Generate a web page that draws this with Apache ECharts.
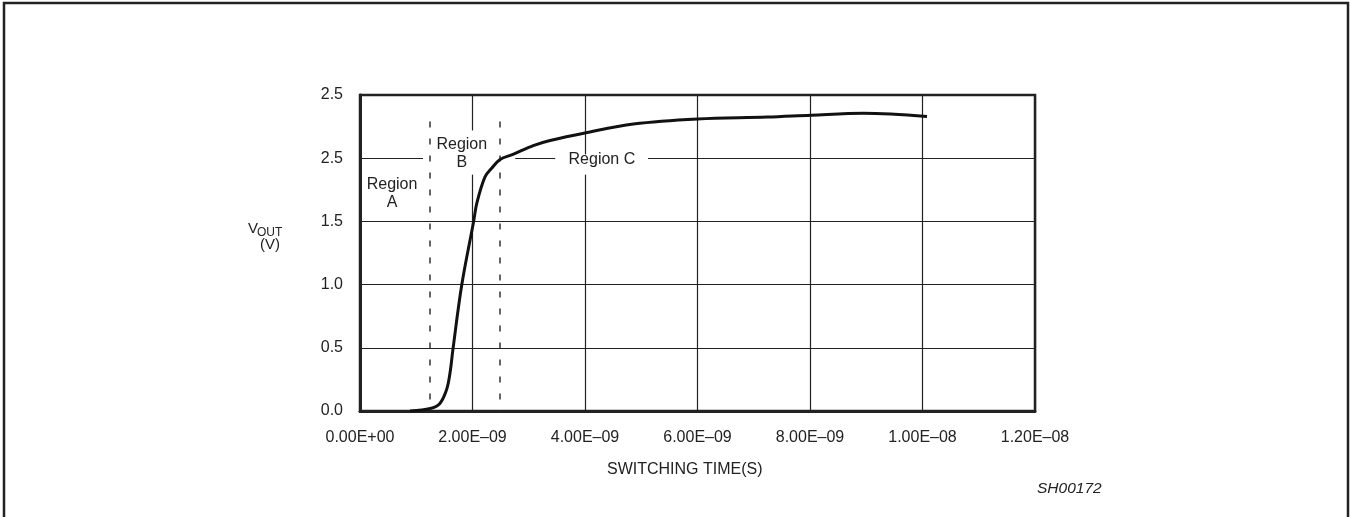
<!DOCTYPE html>
<html>
<head>
<meta charset="utf-8">
<script src="https://cdn.jsdelivr.net/npm/echarts@6/dist/echarts.min.js"></script>
<style>
html,body{margin:0;padding:0;background:#fff;}
#c{width:1351px;height:517px;}
</style>
</head>
<body>
<div id="c"></div>
<script>
// switching time in ns (x1e-9 s) and output voltage (V)
var timeNs = [0.89, 1.25, 1.42, 1.54, 1.60, 1.65, 1.81, 2.02, 2.08, 2.22, 2.34, 2.49, 2.72, 3.08, 3.38, 4.00, 4.86, 6.00, 7.24, 8.02, 8.95, 10.08];
var vout   = [0.00, 0.02, 0.06, 0.17, 0.30, 0.48, 1.00, 1.50, 1.65, 1.85, 1.92, 1.99, 2.03, 2.10, 2.14, 2.20, 2.27, 2.31, 2.325, 2.34, 2.355, 2.33];
var xTickLabels = ['0.00E+00', '2.00E\u201309', '4.00E\u201309', '6.00E\u201309', '8.00E\u201309', '1.00E\u201308', '1.20E\u201308'];
var yTickLabels = ['0.0', '0.5', '1.0', '1.5', '2.5', '2.5'];
var regionBoundsNs = [1.244, 2.49];
var regionTopV = 2.29;

var FONT = '"Liberation Sans", Arial, sans-serif';
var INK = '#222';

var curve = timeNs.map(function (t, i) { return [t * 1e-9, vout[i]]; });

var chart = echarts.init(document.getElementById('c'), null, {renderer: 'canvas'});
chart.setOption({
  animation: false,
  backgroundColor: '#fff',
  grid: {left: 360, right: 316, top: 95, bottom: 106, show: true, borderColor: INK, borderWidth: 2.5, backgroundColor: 'transparent'},
  xAxis: {
    type: 'value', min: 0, max: 1.2e-8, interval: 2e-9,
    axisLine: {show: true, lineStyle: {color: INK, width: 3}},
    axisTick: {show: false},
    splitLine: {show: true, lineStyle: {color: INK, width: 1.2}},
    axisLabel: {
      margin: 19, color: INK, fontFamily: FONT, fontSize: 16,
      formatter: function (v) { return xTickLabels[Math.round(v / 2e-9)]; }
    }
  },
  yAxis: {
    type: 'value', min: 0, max: 2.5, interval: 0.5,
    axisLine: {show: true, lineStyle: {color: INK, width: 3}},
    axisTick: {show: false},
    splitLine: {show: true, lineStyle: {color: INK, width: 1.2}},
    axisLabel: {
      margin: 17, color: INK, fontFamily: FONT, fontSize: 16,
      padding: [0, 0, 9, 0],
      formatter: function (v) { return yTickLabels[Math.round(v / 0.5)]; }
    }
  },
  series: [
    {
      type: 'scatter', data: [], z: 1, silent: true,
      markArea: {
        silent: true,
        itemStyle: {color: '#fff', borderWidth: 0},
        data: [
          [{coord: [1.12e-9, 1.985]}, {coord: [2.76e-9, 2.015]}],
          [{coord: [1.95e-9, 1.87]}, {coord: [2.05e-9, 2.22]}],
          [{coord: [3.47e-9, 1.985]}, {coord: [5.12e-9, 2.015]}],
          [{coord: [3.95e-9, 1.87]}, {coord: [4.05e-9, 2.03]}]
        ]
      },
      markPoint: {
        silent: true,
        symbol: 'rect', symbolSize: 0,
        label: {show: true, position: 'inside', color: INK, fontFamily: FONT, fontSize: 16, lineHeight: 18, align: 'center'},
        data: [
          {coord: [0.57e-9, 1.717], label: {formatter: 'Region\nA'}},
          {coord: [1.81e-9, 2.04], label: {formatter: 'Region\nB'}},
          {coord: [4.30e-9, 1.99], label: {formatter: 'Region C'}}
        ]
      }
    },
    {
      type: 'scatter', data: [], z: 3, silent: true,
      markLine: {
        silent: true, symbol: 'none', label: {show: false},
        lineStyle: {color: '#333', width: 1.5, type: [6, 11]},
        data: regionBoundsNs.map(function (t) {
          return [{coord: [t * 1e-9, regionTopV]}, {coord: [t * 1e-9, 0]}];
        })
      }
    },
    {
      type: 'line', data: curve, z: 5, smooth: 0.35, symbol: 'none',
      lineStyle: {color: '#111', width: 3}
    }
  ],
  graphic: [
    {type: 'rect', z: 10, shape: {x: 4, y: 3, width: 1344, height: 540}, style: {fill: 'none', stroke: INK, lineWidth: 2.5}},
    {type: 'text', z: 10, left: 248, top: 221, style: {text: 'V', font: '15px ' + FONT, fill: INK}},
    {type: 'text', z: 10, left: 257, top: 227, style: {text: 'OUT', font: '12px ' + FONT, fill: INK}},
    {type: 'text', z: 10, left: 260, top: 237, style: {text: '(V)', font: '15px ' + FONT, fill: INK}},
    {type: 'text', z: 10, left: 607, top: 462, style: {text: 'SWITCHING TIME(S)', font: '16px ' + FONT, fill: INK}},
    {type: 'text', z: 10, left: 1037, top: 481, style: {text: 'SH00172', font: 'italic 15.5px ' + FONT, fill: INK}}
  ]
});
</script>
</body>
</html>
